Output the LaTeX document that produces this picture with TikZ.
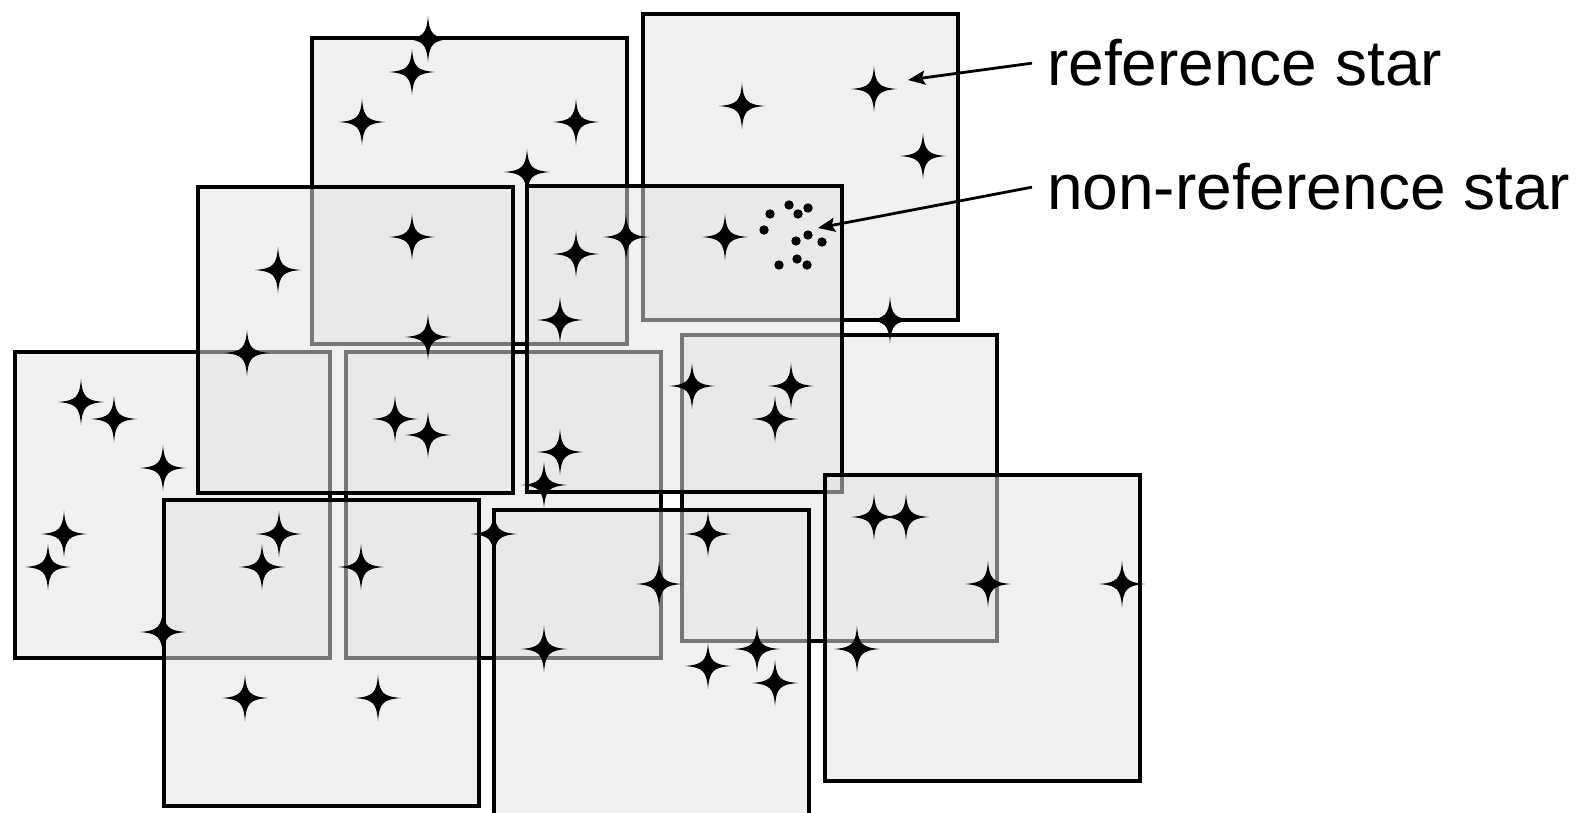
\documentclass[tikz,border=0pt]{standalone}
\usepackage{fontspec}
\setmainfont{Liberation Sans}
\usetikzlibrary{arrows.meta}

\definecolor{tilegray}{RGB}{227,227,227}

\tikzset{
  tile/.style={draw=black, line width=3.3pt, fill=tilegray, fill opacity=0.525},
  twinkle/.pic={
    \fill (23,0) .. controls (5,1.5) and (1.5,5) .. (0,23)
          .. controls (-1.5,5) and (-5,1.5) .. (-23,0)
          .. controls (-5,-1.5) and (-1.5,-5) .. (0,-23)
          .. controls (1.5,-5) and (5,-1.5) .. cycle;
  },
  lbl/.style={font=\fontsize{64pt}{76pt}\selectfont, inner xsep=15pt, inner ysep=0pt},
  pointer/.style={line width=2.8pt, -{Stealth[length=17pt,width=14pt,inset=3pt]}},
}

\begin{document}
\begin{tikzpicture}[x=1pt, y=-1pt]
  \useasboundingbox (0,0) rectangle (1577,813);
  \clip (0,0) rectangle (1577,813);

  % overlapping image tiles, back to front
  \foreach \x/\y in {312/38, 643/14, 15/352, 346/352, 682/335,
                     527/186, 198/187, 164/500, 494/510, 825/475}
    \draw[tile] (\x,\y) rectangle ++(315,306);

  % reference stars
  \foreach \x/\y in {428/39, 412/72, 362/122, 576/122, 527/172, 412/237,
                     576/254, 626/237, 560/320, 428/337, 278/270,
                     742/106, 874/89, 923/156, 725/237, 890/320,
                     81/402, 114/419, 163/468, 247/353, 395/419, 428/435,
                     64/534, 48/567, 279/534, 262/567, 361/567, 163/632, 494/534,
                     560/452, 544/485, 692/386, 791/386, 775/419, 708/534,
                     659/584, 874/517, 906/517, 988/584, 544/649, 757/649,
                     857/649, 245/698, 378/698, 708/666, 775/683, 1122/584}
    \pic at (\x,\y) {twinkle};

  % non-reference stars
  \foreach \x/\y in {770/214, 789/205, 798/214, 808/208, 764/230, 796/241,
                     808/235, 822/242, 779/265, 797/259, 807/265}
    \fill (\x,\y) circle[radius=4.7pt];

  % legend
  \node[lbl, anchor=base west] (reflbl) at (1032,86) {reference star};
  \node[lbl, anchor=base west] (nreflbl) at (1032,210) {non-reference star};
  \coordinate (reftip) at (908,80);
  \coordinate (nreftip) at (818,228);
  \draw[pointer] (reflbl.west) -- (reftip);
  \draw[pointer] (nreflbl.west) -- (nreftip);
\end{tikzpicture}
\end{document}
